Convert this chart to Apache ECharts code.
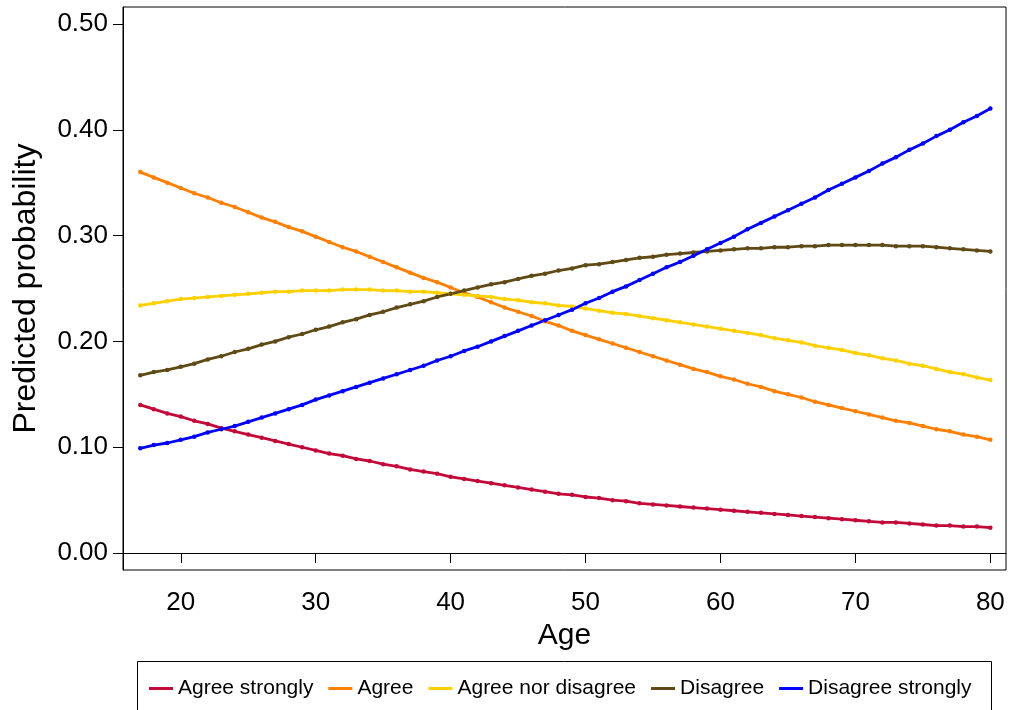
<!DOCTYPE html>
<html>
<head>
<meta charset="utf-8">
<script src="https://cdn.jsdelivr.net/npm/echarts@6/dist/echarts.min.js"></script>
<style>
  html, body { margin: 0; padding: 0; background: #fff; }
  #chart { width: 1009px; height: 710px; }
</style>
</head>
<body>
<div id="chart"></div>
<script>
// Ages 17..80 (one marker per year)
const ages = [17,18,19,
  20,21,22,23,24,25,26,27,28,29,
  30,31,32,33,34,35,36,37,38,39,
  40,41,42,43,44,45,46,47,48,49,
  50,51,52,53,54,55,56,57,58,59,
  60,61,62,63,64,65,66,67,68,69,
  70,71,72,73,74,75,76,77,78,79,
  80];

const seriesNames = ["Agree strongly", "Agree", "Agree nor disagree", "Disagree", "Disagree strongly"];

const agreeStrongly = [0.140,0.136,0.132,
  0.129,0.125,0.122,0.118,0.115,0.112,0.109,0.106,0.103,0.100,
  0.097,0.094,0.092,0.089,0.087,0.084,0.082,0.079,0.077,0.075,
  0.072,0.070,0.068,0.066,0.064,0.062,0.060,0.058,0.056,0.055,
  0.053,0.052,0.050,0.049,0.047,0.046,0.045,0.044,0.043,0.042,
  0.041,0.040,0.039,0.038,0.037,0.036,0.035,0.034,0.033,0.032,
  0.031,0.030,0.029,0.029,0.028,0.027,0.026,0.026,0.025,0.025,
  0.024];

const agree = [0.360,0.355,0.350,
  0.345,0.340,0.336,0.331,0.327,0.322,0.317,0.313,0.308,0.304,
  0.299,0.294,0.289,0.285,0.280,0.275,0.270,0.265,0.260,0.256,
  0.251,0.246,0.242,0.237,0.232,0.228,0.224,0.219,0.215,0.210,
  0.206,0.202,0.198,0.194,0.190,0.186,0.182,0.178,0.174,0.171,
  0.167,0.164,0.160,0.157,0.153,0.150,0.147,0.143,0.140,0.137,
  0.134,0.131,0.128,0.125,0.123,0.120,0.117,0.115,0.112,0.110,
  0.107];

const neither = [0.234,0.236,0.238,
  0.240,0.241,0.242,0.243,0.244,0.245,0.246,0.247,0.247,0.248,
  0.248,0.248,0.249,0.249,0.249,0.248,0.248,0.247,0.247,0.246,
  0.245,0.244,0.243,0.242,0.240,0.239,0.237,0.236,0.234,0.233,
  0.231,0.229,0.227,0.226,0.224,0.222,0.220,0.218,0.216,0.214,
  0.212,0.210,0.208,0.206,0.203,0.201,0.199,0.196,0.194,0.192,
  0.189,0.187,0.184,0.182,0.179,0.177,0.174,0.171,0.169,0.166,
  0.1635];

const disagree = [0.168,0.171,0.173,
  0.176,0.179,0.183,0.186,0.190,0.193,0.197,0.200,0.204,0.207,
  0.211,0.214,0.218,0.221,0.225,0.228,0.232,0.235,0.238,0.242,
  0.245,0.248,0.251,0.254,0.256,0.259,0.262,0.264,0.267,0.269,
  0.272,0.273,0.275,0.277,0.279,0.280,0.282,0.283,0.284,0.285,
  0.286,0.287,0.288,0.288,0.289,0.289,0.290,0.290,0.291,0.291,
  0.291,0.291,0.291,0.290,0.290,0.290,0.289,0.288,0.287,0.286,
  0.285];

const disagreeStrongly = [0.099,0.102,0.104,
  0.107,0.110,0.114,0.117,0.120,0.124,0.128,0.132,0.136,0.140,
  0.145,0.149,0.153,0.157,0.161,0.165,0.169,0.173,0.177,0.182,
  0.186,0.191,0.195,0.200,0.205,0.210,0.215,0.220,0.225,0.230,
  0.236,0.241,0.247,0.252,0.258,0.264,0.270,0.275,0.281,0.287,
  0.293,0.299,0.306,0.312,0.318,0.324,0.330,0.336,0.343,0.349,
  0.355,0.361,0.368,0.374,0.381,0.387,0.394,0.400,0.407,0.413,
  0.420];

const xTicks = [20, 30, 40, 50, 60, 70, 80];
const yTicks = [0, 0.1, 0.2, 0.3, 0.4, 0.5];

const colors = ["#C20A3A", "#FF7F00", "#FFD000", "#5F4A16", "#0000FF"];
const allValues = [agreeStrongly, agree, neither, disagree, disagreeStrongly];

const FONT = "Liberation Sans, Arial, sans-serif";

const chart = echarts.init(document.getElementById('chart'), null, { renderer: 'canvas' });

const series = seriesNames.map((name, i) => ({
  name: name,
  type: 'line',
  data: ages.map((a, k) => [a, allValues[i][k]]),
  symbol: 'circle',
  symbolSize: 4.5,
  showSymbol: true,
  itemStyle: { color: colors[i] },
  lineStyle: { color: colors[i], width: 2.8 },
  emphasis: { disabled: true },
  animation: false,
  z: 3
}));

chart.setOption({
  animation: false,
  textStyle: { fontFamily: FONT },
  grid: {
    left: 123, top: 7, right: 3, bottom: 140,
    show: true, borderColor: '#000', borderWidth: 1, backgroundColor: '#fff'
  },
  xAxis: {
    type: 'value',
    min: 15.72, max: 81.16,
    name: 'Age',
    nameLocation: 'middle',
    nameGap: 47,
    nameTextStyle: { fontSize: 30, color: '#000', fontFamily: FONT },
    axisLine: { show: true, lineStyle: { color: '#000', width: 1 } },
    axisTick: { show: true, length: 10, customValues: xTicks, lineStyle: { color: '#000', width: 1 } },
    axisLabel: { customValues: xTicks, fontSize: 26, color: '#000', margin: 20, fontFamily: FONT },
    splitLine: { show: false }
  },
  yAxis: {
    type: 'value',
    min: -0.016, max: 0.516,
    name: 'Predicted probability',
    nameLocation: 'middle',
    nameGap: 81,
    nameRotate: 90,
    nameTextStyle: { fontSize: 32, color: '#000', fontFamily: FONT },
    axisLine: { show: true, lineStyle: { color: '#000', width: 1 } },
    axisTick: { show: true, length: 10, customValues: yTicks, lineStyle: { color: '#000', width: 1 } },
    axisLabel: {
      customValues: yTicks, fontSize: 26, color: '#000', margin: 15, fontFamily: FONT,
      formatter: v => v.toFixed(2)
    },
    splitLine: { show: false }
  },
  legend: {
    data: seriesNames,
    left: 149,
    top: 678,
    padding: 0,
    orient: 'horizontal',
    icon: 'rect',
    itemWidth: 24,
    itemHeight: 3,
    itemGap: 15,
    textStyle: { fontSize: 21, color: '#000', fontFamily: FONT },
    selectedMode: false
  },
  graphic: [{
    type: 'rect',
    shape: { x: 137.5, y: 661.5, width: 854, height: 60 },
    style: { fill: 'none', stroke: '#000', lineWidth: 1 },
    silent: true
  }],
  series: series
});
</script>
</body>
</html>
